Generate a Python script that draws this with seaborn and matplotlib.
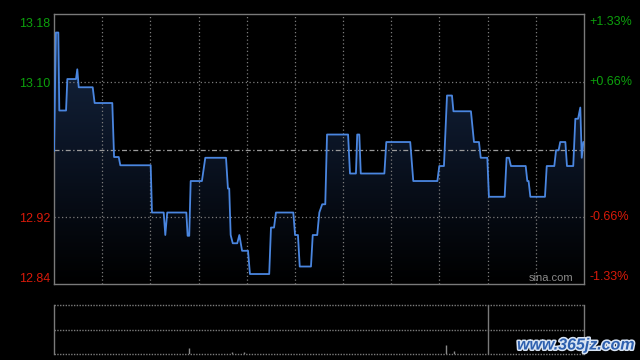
import numpy as np
import pandas as pd
import matplotlib
matplotlib.use("Agg")
import matplotlib.pyplot as plt
import matplotlib.patheffects as pe
from matplotlib.colors import LinearSegmentedColormap
import seaborn as sns

# ---- data (minutes since open, price) ----
minutes = [0, 1.2, 2.7, 3.3, 7.5, 8.3, 13.7, 14.5, 15.4, 24.1, 25.3, 36.3, 37.4, 40.3,
           41.3, 60.2, 61.0, 68.3, 69.3, 70.5, 82.4, 83.2, 84.2, 85.1, 92.1, 94.2,
           107.1, 108.3, 109.1, 110.0, 111.3, 114.1, 115.4, 117.1, 120.8, 122.0, 134.0,
           135.1, 137.0, 138.2, 149.0, 150.1, 151.9, 153.0, 160.0, 161.1, 163.9, 165.2,
           167.0, 168.9, 170.0, 183.1, 184.3, 188.0, 188.8, 190.1, 191.0, 205.7, 206.9,
           221.8, 223.7, 238.7, 239.9, 242.8, 244.7, 247.8, 248.7, 259.6, 261.5, 264.6,
           265.7, 269.8, 270.8, 280.6, 281.8, 283.3, 284.5, 293.7, 294.7, 295.5, 296.6,
           305.7, 306.8, 311.5, 312.6, 314.2, 315.2, 318.4, 319.4, 323.3, 324.6, 326.3,
           327.7, 328.6, 329.6, 330.0]
prices = [13.008, 13.166, 13.166, 13.062, 13.062, 13.104, 13.104, 13.117, 13.093, 13.093,
          13.072, 13.072, 13.000, 13.000, 12.989, 12.989, 12.926, 12.926, 12.896, 12.926,
          12.926, 12.895, 12.895, 12.968, 12.968, 12.999, 12.999, 12.958, 12.958, 12.896,
          12.885, 12.885, 12.896, 12.875, 12.875, 12.844, 12.844, 12.906, 12.906, 12.926,
          12.926, 12.896, 12.896, 12.854, 12.854, 12.896, 12.896, 12.926, 12.937, 12.937,
          13.030, 13.030, 12.978, 12.978, 13.030, 13.030, 12.978, 12.978, 13.020, 13.020,
          12.968, 12.968, 12.988, 12.988, 13.082, 13.082, 13.061, 13.061, 13.020, 13.020,
          12.999, 12.999, 12.947, 12.947, 12.999, 12.999, 12.988, 12.988, 12.968, 12.968,
          12.947, 12.947, 12.988, 12.988, 13.009, 13.009, 13.020, 13.020, 12.988, 12.988,
          13.051, 13.051, 13.066, 12.999, 13.020, 13.020]

prev_close = 13.01
left_ticks = [13.18, 13.10, 12.92, 12.84]
left_labels = ["13.18", "13.10", "12.92", "12.84"]
right_labels = ["+1.33%", "+0.66%", "-0.66%", "-1.33%"]
label_colors = ["#0ca00c", "#0ca00c", "#d81a0a", "#d81a0a"]

vol_minutes = [84, 111, 118, 244, 249]
vol_values = [6.5, 2.0, 2.5, 9.5, 3.5]
vol_marker_minute = 270.5

df = pd.DataFrame({"minute": minutes, "price": prices})

sns.set_style("dark")
plt.rcParams["font.family"] = ["Liberation Sans", "DejaVu Sans"]

W, H = 640, 360
fig = plt.figure(figsize=(6.4, 3.6), dpi=100, facecolor="black")
ax = fig.add_axes([54 / W, 1 - 284 / H, 530 / W, 270 / H])
ax2 = fig.add_axes([54 / W, 1 - 354.3 / H, 530 / W, 49.6 / H])

ymin, ymax = 12.8307, 13.1907
for a in (ax, ax2):
    a.set_facecolor("black")
    a.set_xlim(0, 330)
    for s in a.spines.values():
        s.set_color("#7a7a7a")
        s.set_linewidth(1.0)
ax.set_ylim(ymin, ymax)

# gradient fill under the line
grad = np.linspace(0, 1, 256).reshape(-1, 1)
cmap = LinearSegmentedColormap.from_list("g", ["#000000", "#0b1424", "#162843"])
im = ax.imshow(grad, aspect="auto", cmap=cmap, origin="lower",
               extent=[0, 330, ymin, ymax], zorder=1, vmin=0, vmax=1)
poly = ax.fill_between(df["minute"], df["price"], ymin, color="none", lw=0)
im.set_clip_path(poly.get_paths()[0], transform=ax.transData)

# grid
grid_color = "#7c7c7c"
for m in range(30, 330, 30):
    ax.axvline(m, color=grid_color, lw=0.9, ls=(0, (1, 2)), zorder=2)
for v in (13.10, 12.92):
    ax.axhline(v, color=grid_color, lw=0.9, ls=(0, (1, 2)), zorder=2)
ax.axhline(prev_close, color="#9a9a9a", lw=0.9, ls=(0, (4, 2, 1, 2)), zorder=2)

sns.lineplot(data=df, x="minute", y="price", ax=ax, color="#4a86e0", lw=1.3,
             sort=False, estimator=None, zorder=3)

ax.set_xlabel("")
ax.set_ylabel("")
ax.set_xticks([])
ax.set_yticks(left_ticks)
ax.set_yticklabels(left_labels)
ax.tick_params(axis="y", length=0, pad=2.5, labelsize=9)
for t, c in zip(ax.get_yticklabels(), label_colors):
    t.set_color(c)
for v, lab, c in zip(left_ticks, right_labels, label_colors):
    ax.text(1.010, v, lab, transform=ax.get_yaxis_transform(), color=c,
            fontsize=9, ha="left", va="center")
ax.text(0.979, 0.004, "sina.com", transform=ax.transAxes, color="#8a8a8a",
        fontsize=8.0, ha="right", va="bottom", zorder=4)

# volume panel
ax2.set_ylim(0, 49.6)
ax2.set_xticks([])
ax2.set_yticks([])
ax2.spines["top"].set_visible(False)
ax2.spines["bottom"].set_visible(False)
ax2.axhline(49.6, color=grid_color, lw=1.0, ls=(0, (1, 1)), clip_on=False)
ax2.axhline(24.8, color=grid_color, lw=1.0, ls=(0, (1, 1)))
ax2.axhline(0.3, color=grid_color, lw=1.0, ls=(0, (1, 1)), clip_on=False)
ax2.axvline(vol_marker_minute, color="#7a7a7a", lw=1.0)
ax2.vlines(vol_minutes, 0, vol_values, color="#8a8a8a", lw=1.0)

fig.text(576 / W, 1 - 345 / H, "www.365jz.com", color="#2d5fae", fontsize=11.5,
         fontweight="bold", style="italic", ha="center", va="center",
         path_effects=[pe.withStroke(linewidth=2.2, foreground="#d8e4f4")])

fig.savefig("out.png", dpi=100, facecolor="black")
